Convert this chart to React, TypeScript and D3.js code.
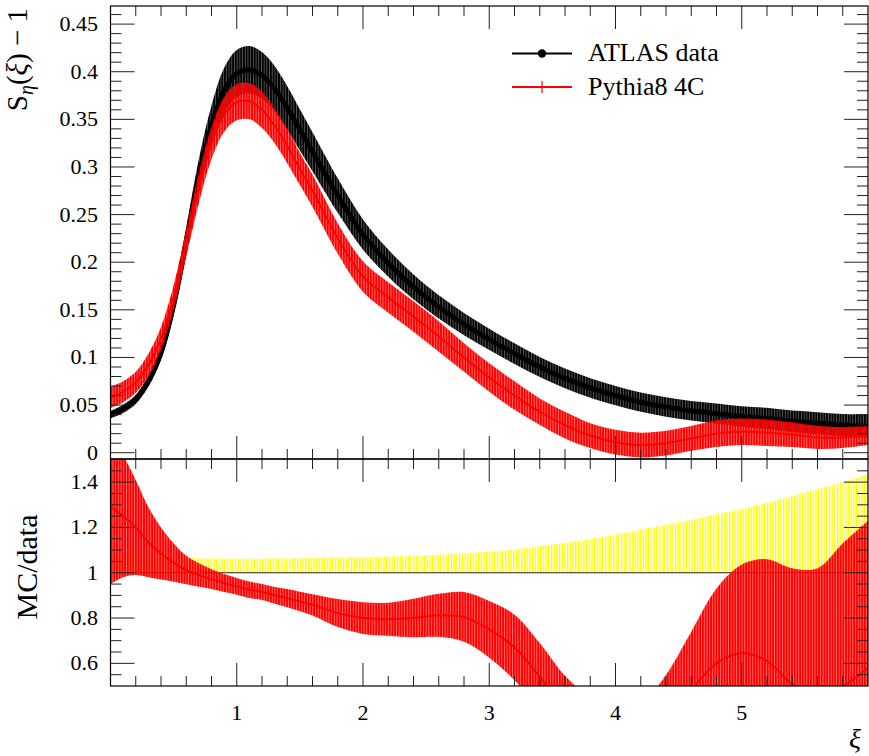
import React from 'react';
import * as d3 from 'd3';

// xi sample positions
const xs = [0, 0.1, 0.2, 0.3, 0.4, 0.5, 0.6, 0.7, 0.8, 0.9, 1.0, 1.1, 1.2, 1.3, 1.4, 1.5, 1.6,
  1.8, 2.0, 2.2, 2.4, 2.6, 2.8, 3.0, 3.2, 3.4, 3.6, 3.8, 4.0, 4.2, 4.4, 4.6, 4.8, 5.0, 5.2, 5.4, 5.6, 5.8, 6.0];

// ATLAS data S_eta(xi) - 1
const dataVals = [0.040, 0.046, 0.056, 0.075, 0.105, 0.155, 0.222, 0.290, 0.343, 0.380, 0.398, 0.402, 0.396, 0.382, 0.362, 0.339, 0.316,
  0.270, 0.229, 0.199, 0.174, 0.153, 0.135, 0.119, 0.104, 0.090, 0.078, 0.068, 0.060, 0.053, 0.048, 0.044, 0.041, 0.038, 0.036, 0.033, 0.031, 0.029, 0.028];
const dataErrs = [0.0040, 0.0044, 0.0048, 0.0058, 0.0076, 0.0105, 0.0147, 0.0186, 0.0216, 0.0238, 0.0247, 0.0249, 0.0246, 0.0239, 0.0228, 0.0217, 0.0205,
  0.0181, 0.0158, 0.0143, 0.0130, 0.0122, 0.0116, 0.0112, 0.0108, 0.0105, 0.0103, 0.0102, 0.0101, 0.0101, 0.0102, 0.0103, 0.0106, 0.0108, 0.0111, 0.0112, 0.0115, 0.0116, 0.0122];

// Pythia8 4C
const mcVals = [0.058, 0.064, 0.074, 0.092, 0.120, 0.163, 0.220, 0.278, 0.325, 0.355, 0.368, 0.369, 0.360, 0.343, 0.322, 0.298, 0.275,
  0.225, 0.185, 0.163, 0.143, 0.122, 0.100, 0.079, 0.060, 0.043, 0.029, 0.018, 0.011, 0.008, 0.010, 0.015, 0.020, 0.022, 0.021, 0.019, 0.016, 0.016, 0.018];
const mcErrs = [0.011, 0.011, 0.011, 0.012, 0.012, 0.013, 0.014, 0.016, 0.017, 0.018, 0.019, 0.019, 0.019, 0.018, 0.018, 0.017, 0.017,
  0.016, 0.016, 0.016, 0.016, 0.016, 0.015, 0.015, 0.015, 0.014, 0.014, 0.013, 0.013, 0.013, 0.013, 0.013, 0.014, 0.014, 0.014, 0.013, 0.012, 0.011, 0.010];

// MC / data ratio
const ratioVals = [1.29, 1.25, 1.20, 1.135, 1.085, 1.045, 1.012, 0.99, 0.972, 0.955, 0.94, 0.925, 0.915, 0.90, 0.888, 0.873, 0.858,
  0.822, 0.80, 0.795, 0.80, 0.812, 0.805, 0.75, 0.67, 0.54, 0.39, 0.27, 0.20, 0.20, 0.30, 0.48, 0.60, 0.646, 0.61, 0.51, 0.47, 0.50, 0.58];
const ratioErrs = [0.34, 0.27, 0.21, 0.155, 0.115, 0.085, 0.063, 0.052, 0.044, 0.040, 0.037, 0.036, 0.035, 0.037, 0.040, 0.043, 0.047,
  0.062, 0.070, 0.073, 0.085, 0.095, 0.11, 0.125, 0.145, 0.15, 0.155, 0.18, 0.20, 0.22, 0.25, 0.26, 0.33, 0.39, 0.45, 0.51, 0.55, 0.63, 0.65];

const xTickLabels = ['1', '2', '3', '4', '5'];
const mainYTickLabels = ['0', '0.05', '0.1', '0.15', '0.2', '0.25', '0.3', '0.35', '0.4', '0.45'];
const ratioYTickLabels = ['0.6', '0.8', '1', '1.2', '1.4'];
const legendLabels = ['ATLAS data', 'Pythia8 4C'];

const FONT = '"Liberation Serif", "DejaVu Serif", serif';

export default function App() {
  const W = 869, H = 756;
  const left = 110.5, right = 868, top = 6, mid = 459, bottom = 686;
  const x = d3.scaleLinear().domain([0, 6]).range([left, right]);
  const y = d3.scaleLinear().domain([-0.0066, 0.469]).range([mid, top]);
  const yr = d3.scaleLinear().domain([0.5, 1.5]).range([bottom, mid + 0.5]);

  const pts = xs.map((xv, i) => ({
    x: xv, d: dataVals[i], de: dataErrs[i], m: mcVals[i], me: mcErrs[i], r: ratioVals[i], re: ratioErrs[i],
  }));
  const curve = d3.curveCatmullRom.alpha(0.5);
  type P = typeof pts[number];

  const dataBand = d3.area<P>().x(p => x(p.x)).y0(p => y(p.d - p.de)).y1(p => y(p.d + p.de)).curve(curve)(pts) || '';
  const dataLine = d3.line<P>().x(p => x(p.x)).y(p => y(p.d)).curve(curve)(pts) || '';
  const mcBand = d3.area<P>().x(p => x(p.x)).y0(p => y(p.m - p.me)).y1(p => y(p.m + p.me)).curve(curve)(pts) || '';
  const mcLine = d3.line<P>().x(p => x(p.x)).y(p => y(p.m)).curve(curve)(pts) || '';
  const yellowBand = d3.area<P>().x(p => x(p.x)).y0(() => yr(1)).y1(p => yr(1 + p.de / p.d)).curve(curve)(pts) || '';
  const ratioBand = d3.area<P>().x(p => x(p.x)).y0(p => yr(p.r - p.re)).y1(p => yr(p.r + p.re)).curve(curve)(pts) || '';
  const ratioLine = d3.line<P>().x(p => x(p.x)).y(p => yr(p.r)).curve(curve)(pts) || '';

  const tickColor = '#222';
  const ticks: JSX.Element[] = [];
  // x ticks
  for (let i = 1; i < 30; i++) {
    const xv = x(i * 0.2);
    const len = i % 5 === 0 ? 23 : 10;
    ticks.push(<line key={'xt' + i} x1={xv} x2={xv} y1={top} y2={top + len} stroke={tickColor} />);
    ticks.push(<line key={'xm' + i} x1={xv} x2={xv} y1={mid} y2={mid - len} stroke={tickColor} />);
    ticks.push(<line key={'xr' + i} x1={xv} x2={xv} y1={mid} y2={mid + len} stroke={tickColor} />);
    ticks.push(<line key={'xb' + i} x1={xv} x2={xv} y1={bottom} y2={bottom - len} stroke={tickColor} />);
  }
  // main y ticks
  for (let i = 0; i <= 46; i++) {
    const yv = y(i / 100);
    const len = i % 5 === 0 ? 24 : 11;
    ticks.push(<line key={'yl' + i} x1={left} x2={left + len} y1={yv} y2={yv} stroke={tickColor} />);
    ticks.push(<line key={'yr' + i} x1={right} x2={right - len} y1={yv} y2={yv} stroke={tickColor} />);
  }
  // ratio y ticks
  for (let i = 11; i < 30; i++) {
    const yv = yr(i * 0.05);
    const len = i % 4 === 0 ? 24 : 11;
    ticks.push(<line key={'rl' + i} x1={left} x2={left + len} y1={yv} y2={yv} stroke={tickColor} />);
    ticks.push(<line key={'rr' + i} x1={right} x2={right - len} y1={yv} y2={yv} stroke={tickColor} />);
  }

  return (
    <svg width={W} height={H} style={{ position: 'absolute', left: 0, top: 0, background: '#fff' }} fontFamily={FONT}>
      <defs>
        <clipPath id="clipMain"><rect x={left} y={top} width={right - left} height={mid - top} /></clipPath>
        <clipPath id="clipRatio"><rect x={left} y={mid} width={right - left} height={bottom - mid} /></clipPath>
        <pattern id="pBlack" width={2.7} height={10} patternUnits="userSpaceOnUse">
          <rect width={2.7} height={10} fill="#000" fillOpacity={0.55} />
          <rect width={2.0} height={10} fill="#000" />
        </pattern>
        <pattern id="pRed" width={2.7} height={10} patternUnits="userSpaceOnUse">
          <rect width={2.7} height={10} fill="#ff0000" fillOpacity={0.45} />
          <rect width={2.0} height={10} fill="#ff0000" />
        </pattern>
        <pattern id="pYellow" width={2.7} height={10} patternUnits="userSpaceOnUse">
          <rect width={1.4} height={10} fill="#ffff00" />
        </pattern>
      </defs>

      {/* main panel */}
      <g clipPath="url(#clipMain)">
        <path d={dataBand} fill="url(#pBlack)" />
        <path d={dataLine} fill="none" stroke="#000" strokeWidth={5} />
        <path d={mcBand} fill="url(#pRed)" />
        <path d={mcLine} fill="none" stroke="#ff0000" strokeWidth={2} />
      </g>

      {/* ratio panel */}
      <g clipPath="url(#clipRatio)">
        <path d={yellowBand} fill="url(#pYellow)" />
        <line x1={left} x2={right} y1={yr(1)} y2={yr(1)} stroke="#222" strokeWidth={1.2} />
        <path d={ratioBand} fill="url(#pRed)" />
        <path d={ratioLine} fill="none" stroke="#ff0000" strokeWidth={2} />
      </g>

      {ticks}
      <rect x={left} y={top} width={right - left} height={mid - top} fill="none" stroke="#000" strokeWidth={1.2} />
      <rect x={left} y={mid} width={right - left} height={bottom - mid} fill="none" stroke="#000" strokeWidth={1.2} />

      {/* tick labels */}
      {mainYTickLabels.map(l => (
        <text key={'ml' + l} x={98} y={y(parseFloat(l)) + 7} textAnchor="end" fontSize={22}>{l}</text>
      ))}
      {ratioYTickLabels.map(l => (
        <text key={'rl' + l} x={98} y={yr(parseFloat(l)) + 7} textAnchor="end" fontSize={22}>{l}</text>
      ))}
      {xTickLabels.map(l => (
        <text key={'xl' + l} x={x(parseFloat(l))} y={720} textAnchor="middle" fontSize={22}>{l}</text>
      ))}

      {/* axis titles */}
      <text transform="translate(27,8) rotate(-90)" textAnchor="end" fontSize={29}>
        S<tspan fontStyle="italic" fontSize={20} dy={6}>η</tspan><tspan dy={-6}>(</tspan><tspan fontStyle="italic">ξ</tspan>) − 1
      </text>
      <text transform="translate(37,567) rotate(-90)" textAnchor="middle" fontSize={30}>MC/data</text>
      <text x={855} y={748} textAnchor="middle" fontSize={28} fontStyle="italic">ξ</text>

      {/* legend */}
      <line x1={512} x2={572} y1={53.5} y2={53.5} stroke="#000" strokeWidth={2} />
      <circle cx={542} cy={53.5} r={4.2} fill="#000" />
      <text x={588} y={61} fontSize={26}>{legendLabels[0]}</text>
      <line x1={512} x2={572} y1={87} y2={87} stroke="#ff0000" strokeWidth={2} />
      <line x1={542} x2={542} y1={81} y2={93} stroke="#ff0000" strokeWidth={1.2} />
      <text x={588} y={95} fontSize={26}>{legendLabels[1]}</text>
    </svg>
  );
}
